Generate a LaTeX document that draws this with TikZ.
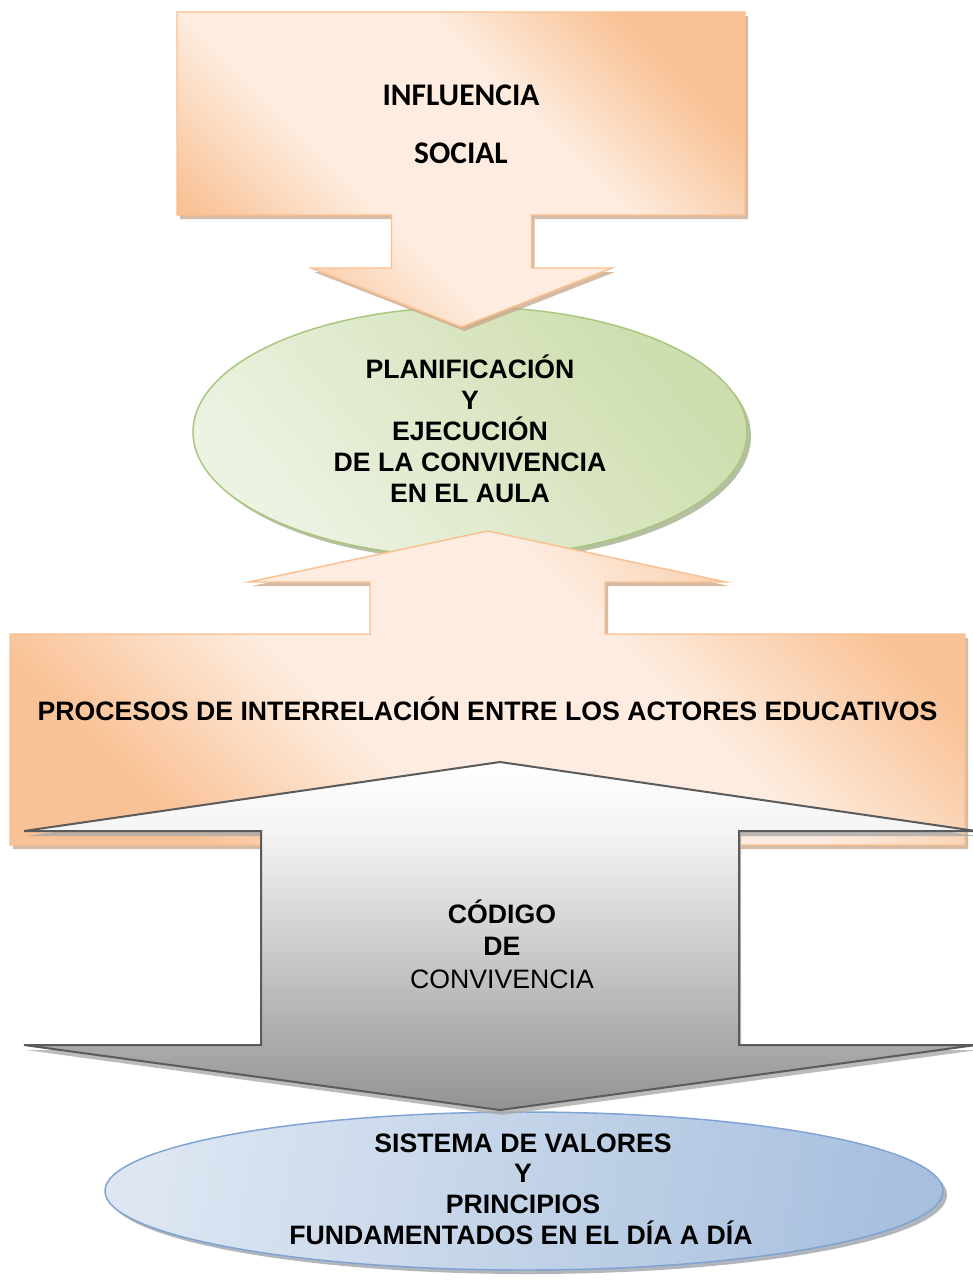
\documentclass[tikz,border=0pt]{standalone}
\usepackage{fontspec}
\setmainfont{Liberation Sans}
\newfontfamily\calibri{Carlito}
\definecolor{orEdge}{HTML}{FAC08F}
\definecolor{orDark}{HTML}{F9C296}
\definecolor{orLight}{HTML}{FDECDF}
\definecolor{orShadow}{HTML}{C7A587}
\definecolor{grEdge}{HTML}{A9C67E}
\definecolor{grDark}{HTML}{CDDDAD}
\definecolor{grLight}{HTML}{EDF3E3}
\definecolor{grShadow}{HTML}{A3B08A}
\definecolor{blEdge}{HTML}{7EA3D3}
\definecolor{blDark}{HTML}{A8C0DE}
\definecolor{blLight}{HTML}{DDE6F2}
\definecolor{blShadow}{HTML}{9EA4AC}
\definecolor{gyEdge}{HTML}{5B5B5B}
\definecolor{gyDark}{HTML}{939393}
\definecolor{gyMid}{HTML}{F4F4F4}
\definecolor{gyShadow}{HTML}{ABABAB}
\pgfdeclareverticalshading{orshade}{100bp}{color(0bp)=(orDark); color(25bp)=(orDark); color(40bp)=(orLight); color(60bp)=(orLight); color(75bp)=(orDark); color(100bp)=(orDark)}
\pgfdeclareverticalshading{gyshade}{100bp}{color(0bp)=(gyDark); color(25bp)=(gyDark); color(65bp)=(gyMid); color(75bp)=(white); color(100bp)=(white)}
\begin{document}
\begin{tikzpicture}[x=0.75pt,y=-0.75pt,
  orshape/.style={draw=orEdge,line width=1.1pt,line join=miter,
    shading=orshade,shading angle=-45},
  orshadow/.style={fill=orShadow,opacity=0.75},
  grshape/.style={draw=grEdge,line width=1.1pt,
    top color=grDark,bottom color=grLight,shading angle=-50},
  blshape/.style={draw=blEdge,line width=1.1pt,
    left color=blLight,right color=blDark,shading angle=80},
  gyshape/.style={draw=gyEdge,line width=1.5pt,line join=miter,
    shading=gyshade},
  lbl/.style={anchor=base,inner sep=0pt,font=\bfseries\fontsize{20}{23.25}\selectfont},
  lblr/.style={anchor=base,inner sep=0pt,font=\fontsize{20}{23.25}\selectfont},
  lblc/.style={anchor=base,inner sep=0pt,font=\calibri\bfseries\fontsize{23.6}{28}\selectfont}
]
\useasboundingbox (0,0) rectangle (973,1282);
\fill[white] (0,0) rectangle (973,1282);

\def\topshape{(177,12) -- (745,12) -- (745,215) -- (531.5,215) -- (531.5,268) -- (612,268) -- (461.5,327) -- (311,268) -- (391.5,268) -- (391.5,215) -- (177,215) -- cycle}
\def\wideshape{(10,634) -- (370,634) -- (370,582) -- (249,582) -- (487.5,531) -- (726,582) -- (605,582) -- (605,634) -- (965,634) -- (965,845) -- (10,845) -- cycle}
\def\grayshape{(500,762) -- (976,831) -- (739,831) -- (739,1045) -- (976,1045) -- (500,1110) -- (24,1045) -- (261,1045) -- (261,831) -- (24,831) -- cycle}

% green ellipse
\fill[grShadow,opacity=0.8] (474,436) ellipse [x radius=277,y radius=125];
\path[grshape] (470,432) ellipse [x radius=277,y radius=125];

% top callout
\begin{scope}[shift={(3,4)}]
\fill[orshadow] \topshape;
\end{scope}
\path[orshape] \topshape;

% blue ellipse
\fill[blShadow,opacity=0.8] (528,1195) ellipse [x radius=419,y radius=79];
\path[blshape] (524,1191) ellipse [x radius=419,y radius=79];

% wide callout
\begin{scope}[shift={(3,4)}]
\fill[orshadow] \wideshape;
\end{scope}
\path[orshape] \wideshape;

% gray double arrow
\begin{scope}[shift={(2,5)}]
\fill[gyShadow,opacity=0.8] \grayshape;
\end{scope}
\path[gyshape] \grayshape;

% texts
\node[lblc] (inf1) at (461,105) {INFLUENCIA};
\node[lblc] (inf2) at (461,163) {SOCIAL};

\node[lbl] (pl1) at (470,378) {PLANIFICACIÓN};
\node[lbl] (pl2) at (470,409) {Y};
\node[lbl] (pl3) at (470,440) {EJECUCIÓN};
\node[lbl] (pl4) at (470,471) {DE LA CONVIVENCIA};
\node[lbl] (pl5) at (470,502) {EN EL AULA};

\node[lbl] (proc) at (487.5,720) {PROCESOS DE INTERRELACIÓN ENTRE LOS ACTORES EDUCATIVOS};

\node[lbl] (cod1) at (502,923) {CÓDIGO};
\node[lbl] (cod2) at (502,955) {DE};
\node[lblr] (cod3) at (502,988) {CONVIVENCIA};

\node[lbl] (sis1) at (523,1152) {SISTEMA DE VALORES};
\node[lbl] (sis2) at (523,1182) {Y};
\node[lbl] (sis3) at (523,1213) {PRINCIPIOS};
\node[lbl] (sis4) at (521,1244) {FUNDAMENTADOS EN EL DÍA A DÍA};
\end{tikzpicture}
\end{document}
